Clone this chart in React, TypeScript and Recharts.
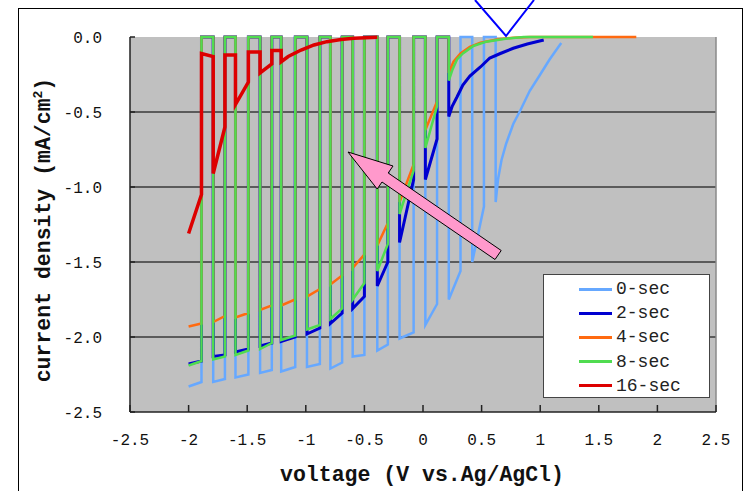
import React from "react";
import { LineChart, Line, XAxis, YAxis, CartesianGrid, ReferenceLine, Legend } from "recharts";

const FONT = "'Liberation Mono', 'DejaVu Sans Mono', monospace";

const X_TICKS = [-2.5, -2, -1.5, -1, -0.5, 0, 0.5, 1, 1.5, 2, 2.5];
const Y_TICKS = [-2.5, -2, -1.5, -1, -0.5, 0];
const GRID_VALUES = [-2, -1.5, -1, -0.5];

// light-on windows of the chopped sweep: [V on, j on, V off, j off]
type Pulse = [number, number, number, number];
type Pt = [number, number];

const PULSES_0S: Pulse[] = [
  [-2.0, -2.33, -1.89, -2.3],
  [-1.79, -2.3, -1.69, -2.28],
  [-1.6, -2.27, -1.49, -2.25],
  [-1.39, -2.24, -1.29, -2.22],
  [-1.21, -2.23, -1.09, -2.2],
  [-0.99, -2.2, -0.88, -2.18],
  [-0.79, -2.21, -0.69, -2.17],
  [-0.6, -2.13, -0.5, -2.12],
  [-0.39, -2.09, -0.3, -2.05],
  [-0.2, -2.01, -0.08, -1.97],
  [0.02, -1.92, 0.12, -1.78],
  [0.22, -1.75, 0.32, -1.56],
  [0.42, -1.5, 0.52, -1.13],
];
const TAIL_0S: Pt[] = [
  [0.62, 0], [0.62, -1.1], [0.64, -0.95], [0.67, -0.82], [0.71, -0.71], [0.77, -0.58],
  [0.83, -0.49], [0.91, -0.36], [1.0, -0.25], [1.08, -0.15], [1.17, -0.05], [1.18, -0.04],
];

const PULSES_2S: Pulse[] = [
  [-2.0, -2.18, -1.89, -2.16],
  [-1.79, -2.13, -1.69, -2.12],
  [-1.6, -2.1, -1.49, -2.08],
  [-1.39, -2.06, -1.29, -2.04],
  [-1.21, -2.03, -1.09, -2.0],
  [-0.99, -1.98, -0.88, -1.94],
  [-0.79, -1.91, -0.69, -1.84],
  [-0.6, -1.81, -0.5, -1.73],
  [-0.39, -1.66, -0.3, -1.5],
  [-0.2, -1.37, -0.08, -0.95],
  [0.02, -0.95, 0.12, -0.68],
];
const TAIL_2S: Pt[] = [
  [0.22, 0], [0.22, -0.53], [0.25, -0.46], [0.29, -0.4], [0.34, -0.32], [0.4, -0.26],
  [0.49, -0.2], [0.57, -0.14], [0.66, -0.11], [0.77, -0.075], [0.89, -0.047], [1.03, -0.02],
];

const PULSES_4S: Pulse[] = [
  [-2.0, -1.93, -1.89, -1.91],
  [-1.79, -1.9, -1.69, -1.86],
  [-1.6, -1.87, -1.49, -1.84],
  [-1.39, -1.82, -1.29, -1.79],
  [-1.21, -1.79, -1.09, -1.75],
  [-0.99, -1.73, -0.88, -1.68],
  [-0.79, -1.65, -0.69, -1.59],
  [-0.6, -1.54, -0.5, -1.45],
  [-0.39, -1.39, -0.3, -1.24],
  [-0.2, -1.1, -0.08, -0.85],
  [0.02, -0.62, 0.12, -0.43],
];
const TAIL_4S: Pt[] = [
  [0.22, 0], [0.22, -0.24], [0.26, -0.165], [0.32, -0.11], [0.4, -0.065], [0.49, -0.038],
  [0.63, -0.016], [0.77, -0.005], [0.91, 0], [1.82, 0],
];

const PULSES_8S: Pulse[] = [
  [-2.0, -2.19, -1.89, -2.16],
  [-1.79, -2.15, -1.69, -2.13],
  [-1.6, -2.12, -1.49, -2.09],
  [-1.39, -2.08, -1.29, -2.04],
  [-1.21, -2.02, -1.09, -1.99],
  [-0.99, -1.95, -0.88, -1.92],
  [-0.79, -1.88, -0.69, -1.81],
  [-0.6, -1.75, -0.5, -1.64],
  [-0.39, -1.56, -0.3, -1.38],
  [-0.2, -1.18, -0.08, -0.89],
  [0.02, -0.74, 0.12, -0.46],
];
const TAIL_8S: Pt[] = [
  [0.22, 0], [0.22, -0.29], [0.25, -0.22], [0.29, -0.15], [0.34, -0.11], [0.43, -0.06],
  [0.54, -0.031], [0.69, -0.013], [0.86, 0], [1.45, 0],
];

// 16-sec: dark current sits a little below zero, so listed point by point
const CURVE_16S: Pt[] = [
  [-2.0, -1.31], [-1.89, -1.05], [-1.89, -0.11], [-1.79, -0.13], [-1.79, -0.91], [-1.69, -0.6],
  [-1.69, -0.12], [-1.6, -0.12], [-1.6, -0.45], [-1.49, -0.3], [-1.49, -0.1], [-1.39, -0.1],
  [-1.39, -0.24], [-1.29, -0.18], [-1.29, -0.09], [-1.21, -0.09], [-1.21, -0.165], [-1.15, -0.13],
  [-1.04, -0.087], [-0.93, -0.053], [-0.82, -0.031], [-0.7, -0.016], [-0.59, -0.009], [-0.39, -0.002],
];

const DARK_LEVEL = 0;

function chopped(pulses: Pulse[], tail: Pt[]) {
  const pts: { v: number; j: number }[] = [];
  pulses.forEach(([on, jOn, off, jOff], i) => {
    if (i > 0) pts.push({ v: on, j: DARK_LEVEL });
    pts.push({ v: on, j: jOn }, { v: off, j: jOff }, { v: off, j: DARK_LEVEL });
  });
  tail.forEach(([v, j]) => pts.push({ v, j }));
  return pts;
}

const SERIES = [
  { name: "0-sec", color: "#66A8FF", width: 2.5, data: chopped(PULSES_0S, TAIL_0S) },
  { name: "2-sec", color: "#0000D0", width: 3, data: chopped(PULSES_2S, TAIL_2S) },
  { name: "4-sec", color: "#FF6A10", width: 2.5, data: chopped(PULSES_4S, TAIL_4S) },
  { name: "8-sec", color: "#50DC50", width: 2.5, data: chopped(PULSES_8S, TAIL_8S) },
  { name: "16-sec", color: "#DD0000", width: 3.5, data: CURVE_16S.map(([v, j]) => ({ v, j })) },
];

function LegendBox() {
  return (
    <div style={{
      boxSizing: "border-box", width: 167, height: 124, background: "#fff",
      border: "1.5px solid #444", paddingTop: 2, fontFamily: FONT, fontSize: 18, color: "#222",
    }}>
      {SERIES.map((s) => (
        <div key={s.name} style={{ height: 24.2, display: "flex", alignItems: "center" }}>
          <span style={{ display: "inline-block", marginLeft: 35, width: 33, height: 3, background: s.color }} />
          <span style={{ marginLeft: 4 }}>{s.name}</span>
        </div>
      ))}
    </div>
  );
}

export default function App() {
  const tick = { fontSize: 16, fontFamily: FONT, fill: "#111" };
  return (
    <div style={{ position: "fixed", left: 0, top: 0, width: 745, height: 491, overflow: "hidden", background: "#fff" }}>
      <div style={{
        position: "absolute", left: 18, top: 8, width: 725, height: 500,
        border: "1.5px solid #000", boxSizing: "border-box",
      }} />
      <div style={{ position: "absolute", left: 0, top: 0 }}>
        <LineChart width={745} height={491} margin={{ top: 37, right: 29, left: 0, bottom: 0 }}>
          <CartesianGrid vertical={false} horizontalValues={GRID_VALUES} fill="#C0C0C0" stroke="#3a3a3a" strokeWidth={1.5} />
          <XAxis
            type="number" dataKey="v" domain={[-2.5, 2.5]} ticks={X_TICKS} height={79}
            tick={tick} tickSize={-7} tickMargin={29} stroke="#222" strokeWidth={1.5}
          />
          <YAxis
            type="number" dataKey="j" domain={[-2.5, 0]} ticks={Y_TICKS} width={130}
            tickFormatter={(v: number) => v.toFixed(1)}
            tick={tick} tickSize={-5} tickMargin={33} stroke="#222" strokeWidth={1.5}
          />
          <ReferenceLine x={2.5} stroke="#8a8a8a" strokeWidth={1.5} />
          {SERIES.map((s) => (
            <Line
              key={s.name} name={s.name} data={s.data} dataKey="j" type="linear"
              stroke={s.color} strokeWidth={s.width} dot={false} isAnimationActive={false}
            />
          ))}
          <Legend
            layout="horizontal" verticalAlign="middle" align="center"
            wrapperStyle={{ left: 543, top: 274, width: 167, height: 124 }}
            content={() => <LegendBox />}
          />
        </LineChart>
      </div>
      <svg width={745} height={491} style={{ position: "absolute", left: 0, top: 0, pointerEvents: "none" }}>
        <polyline points="475,0 506,36 534,0" fill="none" stroke="#0000FF" strokeWidth={2} />
        <polygon
          points="348,152 393,166 388.2,173 501.2,250.5 495,259.5 382,182 377.2,189"
          fill="#FF99CC" stroke="#000" strokeWidth={1}
        />
        <text x={422} y={481} textAnchor="middle" fontFamily={FONT} fontSize={21.5} fontWeight={700} fill="#111">
          voltage (V vs.Ag/AgCl)
        </text>
        <text transform="translate(50,230) rotate(-90)" textAnchor="middle" fontFamily={FONT} fontSize={21.5} fontWeight={700} fill="#111">
          current density (mA/cm<tspan dy={-8} fontSize={13}>2</tspan><tspan dy={8}>)</tspan>
        </text>
      </svg>
    </div>
  );
}
